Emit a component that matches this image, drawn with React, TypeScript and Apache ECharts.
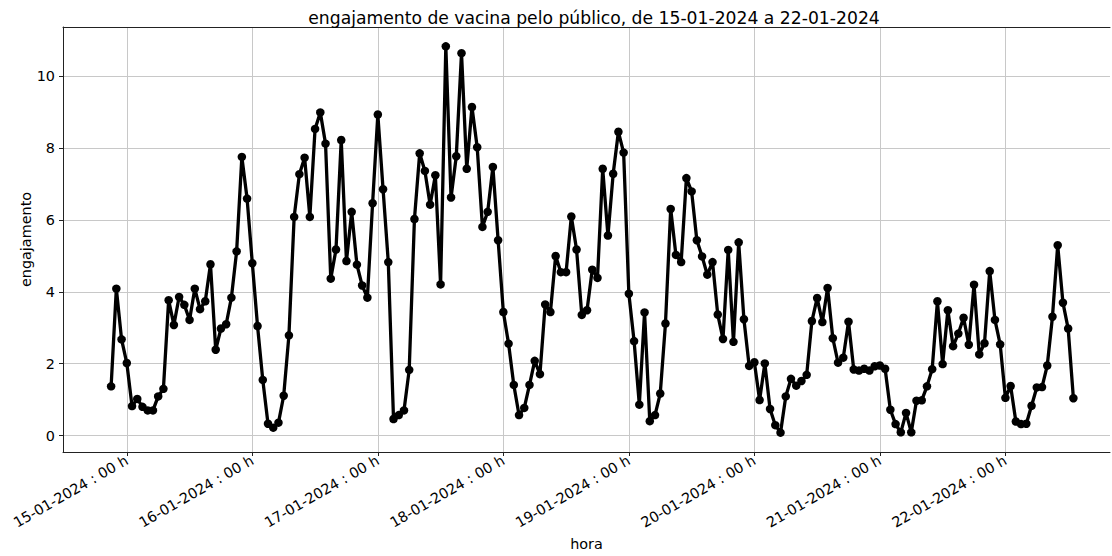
import React, { useEffect, useRef } from "react";
import * as echarts from "echarts";

// First sample: 14-01-2024 21:00, one sample per hour
const firstSampleHourFrom15Jan = -3;
const engajamento = [
  1.37, 4.09, 2.68, 2.02, 0.82, 1.02, 0.80, 0.70, 0.70, 1.09, 1.30, 3.77,
  3.08, 3.86, 3.64, 3.22, 4.09, 3.52, 3.74, 4.77, 2.39, 2.98, 3.10, 3.84,
  5.13, 7.76, 6.60, 4.80, 3.05, 1.55, 0.33, 0.22, 0.36, 1.11, 2.79, 6.09,
  7.28, 7.74, 6.09, 8.54, 9.00, 8.13, 4.37, 5.18, 8.23, 4.86, 6.23, 4.76,
  4.18, 3.84, 6.47, 8.94, 6.86, 4.83, 0.46, 0.57, 0.70, 1.83, 6.03, 7.86,
  7.37, 6.43, 7.25, 4.21, 10.84, 6.63, 7.78, 10.65, 7.43, 9.15, 8.03, 5.81,
  6.23, 7.48, 5.44, 3.44, 2.56, 1.41, 0.57, 0.77, 1.41, 2.08, 1.71, 3.65,
  3.44, 5.00, 4.55, 4.55, 6.10, 5.18, 3.36, 3.49, 4.62, 4.39, 7.43, 5.57,
  7.29, 8.46, 7.88, 3.95, 2.63, 0.86, 3.43, 0.40, 0.57, 1.17, 3.12, 6.31,
  5.03, 4.83, 7.17, 6.80, 5.44, 4.99, 4.48, 4.83, 3.37, 2.69, 5.17, 2.61,
  5.38, 3.24, 1.94, 2.04, 0.99, 2.01, 0.74, 0.29, 0.08, 1.09, 1.58, 1.39,
  1.52, 1.69, 3.19, 3.83, 3.16, 4.11, 2.71, 2.03, 2.17, 3.17, 1.84, 1.81,
  1.86, 1.81, 1.93, 1.95, 1.86, 0.72, 0.32, 0.09, 0.63, 0.09, 0.97, 0.98,
  1.37, 1.85, 3.74, 1.99, 3.49, 2.49, 2.84, 3.28, 2.53, 4.20, 2.26, 2.57,
  4.58, 3.22, 2.54, 1.05, 1.38, 0.39, 0.32, 0.33, 0.83, 1.34, 1.35, 1.95,
  3.31, 5.30, 3.70, 2.98, 1.04,
];

const dayTickValues = [0, 1, 2, 3, 4, 5, 6, 7];
const dayTickLabels = [
  "15-01-2024 : 00 h",
  "16-01-2024 : 00 h",
  "17-01-2024 : 00 h",
  "18-01-2024 : 00 h",
  "19-01-2024 : 00 h",
  "20-01-2024 : 00 h",
  "21-01-2024 : 00 h",
  "22-01-2024 : 00 h",
];
const yTickValues = [0, 2, 4, 6, 8, 10];

const titleText = "engajamento de vacina pelo público, de 15-01-2024 a 22-01-2024";
const FONT = "DejaVu Sans";
const TICK_FS = 14.4;

export default function App() {
  const ref = useRef<HTMLDivElement>(null);
  useEffect(() => {
    if (!ref.current) return;
    const chart = echarts.init(ref.current, null, { renderer: "svg" });
    const data = engajamento.map((v, i) => [
      (i + firstSampleHourFrom15Jan) / 24,
      v,
    ]);
    const labelFor = (val: number) => {
      const idx = dayTickValues.findIndex((d) => Math.abs(d - val) < 1e-6);
      return idx >= 0 ? dayTickLabels[idx] : "";
    };
    const yLabelFor = (val: number) =>
      yTickValues.some((d) => Math.abs(d - val) < 1e-6) ? String(val) : "";
    const xMin = -12.2 / 24;
    const xMax = 188.0 / 24;
    chart.setOption({
      animation: false,
      backgroundColor: "#ffffff",
      title: {
        text: titleText,
        left: 589,
        top: 4,
        textAlign: "center",
        textStyle: {
          fontFamily: FONT,
          fontSize: 17.2,
          fontWeight: "normal",
          color: "#000",
        },
      },
      grid: {
        left: 63,
        top: 27,
        right: 2,
        bottom: 101,
        show: false,
      },
      xAxis: [
        {
          type: "value",
          position: "bottom",
          min: xMin,
          max: xMax,
          splitNumber: 8,
          name: "hora",
          nameLocation: "middle",
          nameGap: 85,
          nameMoveOverlap: false,
          nameTextStyle: { fontFamily: FONT, fontSize: TICK_FS, color: "#000" },
          axisLine: {
            show: true,
            onZero: false,
            lineStyle: { color: "#222", width: 1 },
          },
          axisTick: {
            show: true,
            length: 4,
            lineStyle: { color: "#222" },
            customValues: dayTickValues,
          },
          axisLabel: {
            customValues: dayTickValues,
            rotate: 30,
            margin: 7,
            fontFamily: FONT,
            fontSize: TICK_FS,
            color: "#000",
            formatter: (v: number) => labelFor(v),
          },
          splitLine: { show: true, lineStyle: { color: "#c8c8c8", width: 1 } },
        },
        {
          type: "value",
          position: "top",
          min: xMin,
          max: xMax,
          axisLine: {
            show: true,
            onZero: false,
            lineStyle: { color: "#222", width: 1 },
          },
          axisTick: { show: false },
          axisLabel: { show: false },
          splitLine: { show: false },
        },
      ],
      yAxis: {
        type: "value",
        min: -0.458,
        max: 11.378,
        splitNumber: 6,
        name: "engajamento",
        nameLocation: "middle",
        nameGap: 30,
        nameMoveOverlap: false,
        nameTextStyle: { fontFamily: FONT, fontSize: TICK_FS, color: "#000" },
        axisLine: {
          show: true,
          onZero: false,
          lineStyle: { color: "#222", width: 1 },
        },
        axisTick: {
          show: true,
          length: 4,
          lineStyle: { color: "#222" },
          customValues: yTickValues,
        },
        axisLabel: {
          customValues: yTickValues,
          margin: 8,
          fontFamily: FONT,
          fontSize: TICK_FS,
          color: "#000",
          formatter: (v: number) => yLabelFor(v),
        },
        splitLine: { show: true, lineStyle: { color: "#c8c8c8", width: 1 } },
      },
      series: [
        {
          type: "line",
          xAxisIndex: 0,
          data,
          lineStyle: { color: "#000", width: 3.3 },
          itemStyle: { color: "#000" },
          symbol: "circle",
          symbolSize: 8.5,
          showSymbol: true,
          showAllSymbol: true,
          clip: true,
          z: 5,
        },
      ],
    });
    return () => chart.dispose();
  }, []);
  return (
    <div
      ref={ref}
      style={{
        position: "fixed",
        left: 0,
        top: 0,
        width: 1112,
        height: 556,
        background: "#fff",
      }}
    />
  );
}
